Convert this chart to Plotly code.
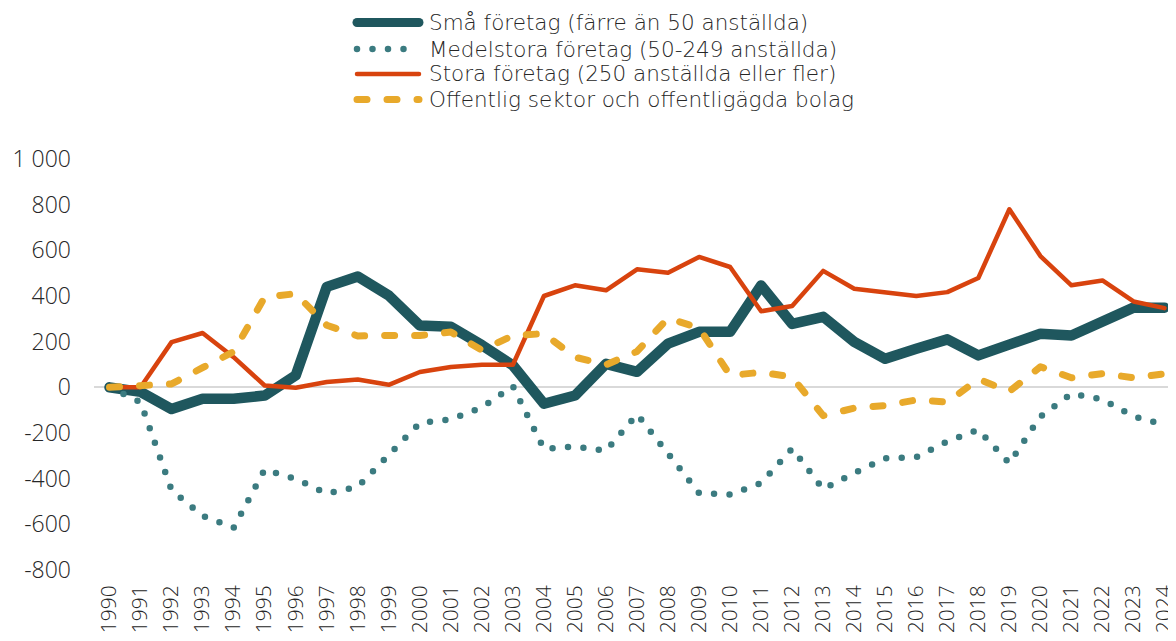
import plotly.graph_objects as go

years = [str(y) for y in range(1990, 2025)]

small = [0, -20, -95, -50, -50, -36, 52, 440, 485, 402, 271, 265, 185, 96, -72, -36,
         103, 68, 191, 243, 243, 446, 278, 309, 199, 125, 169, 210, 140, 188, 235, 227,
         283, 349, 349]
medium = [0, -65, -450, -563, -615, -360, -401, -465, -436, -298, -156, -140, -88, 5,
          -270, -259, -278, -118, -287, -463, -470, -419, -268, -446, -375, -311, -306,
          -237, -186, -332, -128, -28, -53, -127, -165]
large = [0, 0, 198, 238, 132, 8, -2, 23, 34, 11, 67, 89, 99, 99, 400, 447, 425, 517,
         502, 571, 527, 333, 356, 510, 432, 414, 400, 417, 479, 780, 575, 447, 468, 376,
         347]
public = [0, 5, 15, 86, 156, 395, 410, 272, 225, 227, 227, 242, 163, 227, 235, 132, 99,
          157, 303, 260, 52, 66, 45, -124, -91, -80, -55, -65, 36, -18, 90, 42, 60, 42, 59]

names = ["Små företag (färre än 50 anställda)",
         "Medelstora företag (50-249 anställda)",
         "Stora företag (250 anställda eller fler)",
         "Offentlig sektor och offentligägda bolag"]

ytick_vals = [-800, -600, -400, -200, 0, 200, 400, 600, 800, 1000]
ytick_text = ["-800", "-600", "-400", "-200", "0", "200", "400", "600", "800", "1 000"]

colors = ["#1F575E", "#3B7B80", "#D8430E", "#E8A92B"]
widths = [10.5, 6.5, 4.5, 7]
dashes = ["solid", "0px,15.5px", "solid", "10px,20px"]
series = [small, medium, large, public]

FONT = "Open Sans"
LEG_FONT = "DejaVu Sans"
TXT = "#262626"
# page is 1176x641; the html body has an 8px margin
OFF = 8
W, H = 1176 - OFF, 641 - OFF
L, R, T, B = 94 - OFF, 0, 159 - OFF, 71

fig = go.Figure()
for s, n, c, w, d in zip(series, names, colors, widths, dashes):
    fig.add_trace(go.Scatter(x=years, y=s, name=n, mode="lines",
                             line=dict(color=c, width=w, dash=d),
                             showlegend=False))

# custom legend (positions in page pixels, converted to paper coords)
pw = 1176 - 94
ph = 570 - 159
def px_x(x):
    return (x - 94) / pw
def px_y(y):
    return (570 - y) / ph

leg_rows = [22.5, 49, 74, 99.5]
for n, c, w, d, yy in zip(names, colors, widths, dashes, leg_rows):
    fig.add_shape(type="line", xref="paper", yref="paper",
                  x0=px_x(357), x1=px_x(419), y0=px_y(yy), y1=px_y(yy),
                  line=dict(color=c, width=w if w < 9 else 9, dash=d))
    fig.add_annotation(text=n, xref="paper", yref="paper", x=px_x(427), y=px_y(yy),
                       xanchor="left", yanchor="middle", showarrow=False,
                       font=dict(family=LEG_FONT, size=21.5, color=TXT, weight=300))

fig.update_layout(
    width=W, height=H,
    margin=dict(l=L, r=R, t=T, b=B),
    paper_bgcolor="white", plot_bgcolor="white",
    font=dict(family=FONT, color=TXT),
    showlegend=False,
)
fig.update_xaxes(type="category", range=[-0.5, 34.37], showgrid=False, zeroline=False,
                 showline=False, ticks="", tickangle=-90, ticklabelstandoff=10,
                 tickfont=dict(family=FONT, size=21, color=TXT, weight=300))
fig.update_yaxes(range=[-800, 1000], tickmode="array", tickvals=ytick_vals,
                 ticktext=ytick_text, showgrid=False, zeroline=True,
                 zerolinecolor="#D9D9D9", zerolinewidth=2, showline=False, ticks="",
                 ticklabelstandoff=22,
                 tickfont=dict(family=FONT, size=23, color=TXT, weight=300))

post = """
function roundCaps(){
  var gd = document.getElementById('{plot_id}');
  gd.querySelectorAll('.js-line, .shapelayer path').forEach(function(p){
    p.style.strokeLinecap = 'round';
    p.style.strokeLinejoin = 'round';
  });
}
roundCaps();
var gd0 = document.getElementById('{plot_id}');
if (gd0 && gd0.on) { gd0.on('plotly_afterplot', roundCaps); }
setTimeout(roundCaps, 50);
setTimeout(roundCaps, 300);
"""

fig.write_html("out.html", post_script=post)
